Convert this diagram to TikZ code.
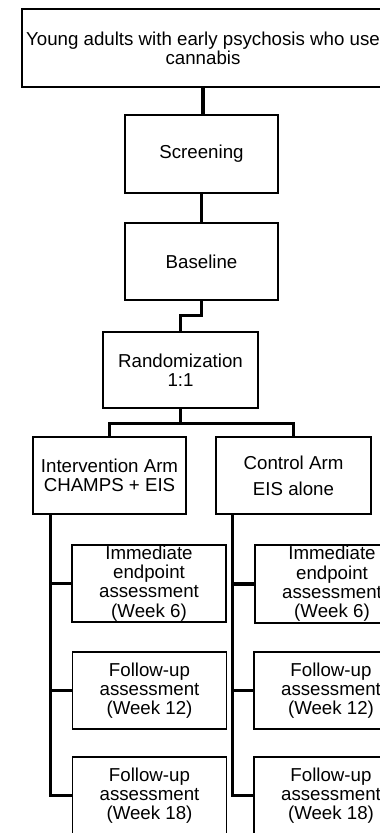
\documentclass[tikz,border=0pt]{standalone}
\usepackage{fontspec}
\setmainfont{Liberation Sans}
\begin{document}
\begin{tikzpicture}[x=1pt,y=-1pt,
  box/.style={draw=black, line width=1.3pt, rectangle, inner sep=0pt, align=center,
    font=\fontsize{18.7}{19.3}\selectfont, fill=white},
  conn/.style={draw=black, line width=3.2pt, line join=miter}]
\useasboundingbox (0,0) rectangle (380,833);
\clip (0,0) rectangle (380,833);
\fill[white] (0,0) rectangle (380,833);

\node[box, minimum width=362pt, minimum height=78pt] (top) at (203,48)
  {Young adults with early psychosis who use\\cannabis};
\node[box, minimum width=153pt, minimum height=78pt] (scr) at (201.5,154) {Screening};
\node[box, minimum width=153pt, minimum height=77pt] (base) at (201.5,261.5) {Baseline};
\node[box, minimum width=155pt, minimum height=76pt] (rand) at (180.5,370) {Randomization\\1:1};
\node[box, minimum width=153pt, minimum height=77pt] (intv) at (109.5,475.5) {Intervention Arm\\CHAMPS + EIS};
\node[box, minimum width=155pt, minimum height=77pt] (ctrl) at (293.5,475.5) {Control Arm\\[7pt]EIS alone};

\node[box, minimum width=154pt, minimum height=77pt] (imL) at (149,583.5) {Immediate\\endpoint\\assessment\\(Week 6)};
\node[box, minimum width=154pt, minimum height=77pt] (f12L) at (149.5,690.5) {Follow-up\\assessment\\(Week 12)};
\node[box, minimum width=154pt, minimum height=77pt] (f18L) at (149.5,795.5) {Follow-up\\assessment\\(Week 18)};

\node[box, minimum width=154pt, minimum height=78pt] (imR) at (332,584) {Immediate\\endpoint\\assessment\\(Week 6)};
\node[box, minimum width=154pt, minimum height=77pt] (f12R) at (331,690.5) {Follow-up\\assessment\\(Week 12)};
\node[box, minimum width=154pt, minimum height=77pt] (f18R) at (331,795.5) {Follow-up\\assessment\\(Week 18)};

\draw[conn] (top.south) -- (top.south |- scr.north);
\draw[conn] (scr.south) -- (base.north);
\draw[conn] (base.south) -- ++(0,15) -| (rand.north);
\draw[conn] (rand.south) -- ++(0,15) coordinate (split);
\draw[conn] (intv.north) |- (split) -| (ctrl.north);

\coordinate (sL) at ([xshift=18pt]intv.south west);
\coordinate (sR) at ([xshift=17pt]ctrl.south west);
\draw[conn] (sL) |- (f18L.west);
\draw[conn] (sL |- imL.west) -- (imL.west);
\draw[conn] (sL |- f12L.west) -- (f12L.west);
\draw[conn] (sR) |- (f18R.west);
\draw[conn] (sR |- imR.west) -- (imR.west);
\draw[conn] (sR |- f12R.west) -- (f12R.west);
\end{tikzpicture}
\end{document}
